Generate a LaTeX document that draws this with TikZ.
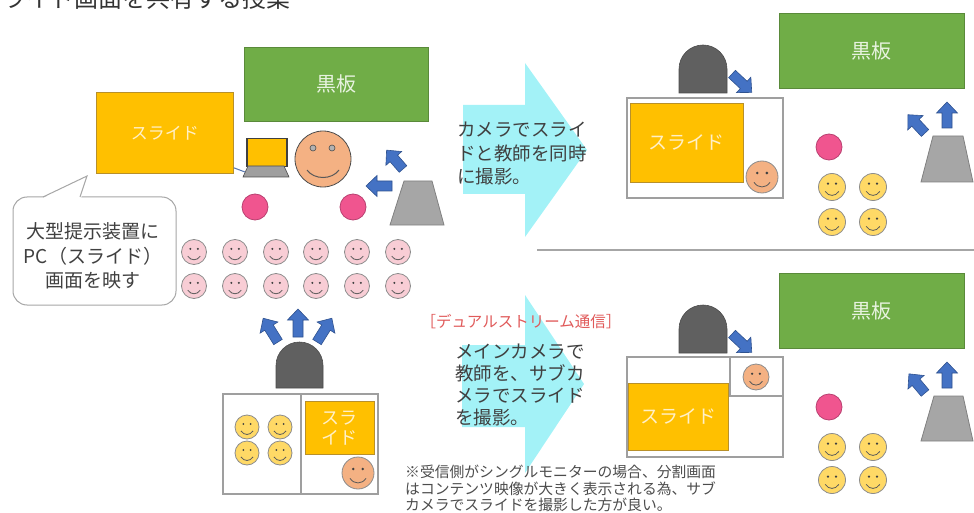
\documentclass[tikz,border=0pt]{standalone}
\usepackage{fontspec}
\setmainfont{Noto Sans CJK JP}
\usetikzlibrary{calc}

\definecolor{slideY}{HTML}{FFC000}
\definecolor{slideYb}{HTML}{B8902A}
\definecolor{slideTx}{HTML}{FFF0C8}
\definecolor{boardG}{HTML}{70AD47}
\definecolor{boardGb}{HTML}{5A8A3A}
\definecolor{boardTx}{HTML}{E8F3E0}
\definecolor{dotP}{HTML}{F0558F}
\definecolor{dotPb}{HTML}{B84070}
\definecolor{skinO}{HTML}{F4B183}
\definecolor{stuP}{HTML}{F8CDD5}
\definecolor{stuY}{HTML}{FFD966}
\definecolor{faceB}{HTML}{8C8C8C}
\definecolor{camD}{HTML}{606060}
\definecolor{camT}{HTML}{A6A6A6}
\definecolor{arrB}{HTML}{4472C4}
\definecolor{arrBb}{HTML}{2F528F}
\definecolor{flowC}{HTML}{A3F2F7}
\definecolor{txtD}{HTML}{404040}
\definecolor{noteR}{HTML}{E05A5A}

\tikzset{
  slidebox/.style={draw=slideYb, fill=slideY, line width=0.8pt, inner sep=0pt,
    anchor=north west, text=slideTx},
  boardbox/.style={draw=boardGb, fill=boardG, line width=0.8pt, inner sep=0pt,
    anchor=north west, text=boardTx, font=\fontsize{20}{24}\selectfont},
  screenbox/.style={draw=gray!75, fill=white, line width=1.2pt},
  bluearrow/.style={fill=arrB, draw=arrBb, line width=0.6pt, line join=miter},
  pinkdot/.style={fill=dotP, draw=dotPb, line width=0.8pt},
  camdome/.style={fill=camD, draw=black!70, line width=0.6pt},
  camstand/.style={fill=camT, draw=black!50, line width=0.8pt},
  flowarrow/.style={fill=flowC, draw=none},
  bodytext/.style={text=txtD, inner sep=0pt},
  bubbleline/.style={draw=gray!70, line width=1pt},
  pics/face/.style n args={2}{code={
    \draw[draw=faceB, line width=0.8pt, fill=#1] (0,0) circle[radius=#2];
    \fill[black!75] ({-0.3*#2},{-0.25*#2}) circle[radius={0.09*#2}]
                    ({0.3*#2},{-0.25*#2}) circle[radius={0.09*#2}];
    \draw[black!65, line width=0.8pt] ({-0.5*#2},{0.33*#2})
      .. controls ({-0.25*#2},{0.72*#2}) and ({0.25*#2},{0.72*#2}) .. ({0.5*#2},{0.33*#2});
  }},
  pics/barrow/.style={code={
    \draw[bluearrow] (0,-5) -- ({#1-11},-5) -- ({#1-11},-10.5) -- (#1,0)
      -- ({#1-11},10.5) -- ({#1-11},5) -- (0,5) -- cycle;
  }},
}

\begin{document}
\begin{tikzpicture}[x=1pt,y=-1pt]
\useasboundingbox (0,0) rectangle (974,513);

% heading (runs off the top edge)
\node[anchor=base west, inner sep=0pt, text=black!80, font=\fontsize{24}{29}\selectfont]
  (heading) at (-22,7.5) {スライド画面を共有する授業};

% ---------- classroom with the large display ----------
\node[boardbox, minimum width=184pt, minimum height=74pt] (boardA) at (244,47) {黒板};
\node[slidebox, minimum width=137pt, minimum height=81pt, font=\fontsize{17}{20}\selectfont]
  (slideA) at (96,92) {スライド};

% laptop
\node[draw=black!75, fill=slideY, line width=1.5pt, minimum width=40pt, minimum height=28pt,
  inner sep=0pt, anchor=north west] (laptopA) at (246,138) {};
\draw[fill=gray!75, draw=gray!60!black, line width=0.6pt]
  (248,166) -- (284,166) -- (289,177) -- (243,177) -- cycle;
\coordinate (laptopPort) at (245,172);
\draw[draw=arrB!70!gray, line width=1pt] ([yshift=6pt]slideA.south east) -- (laptopPort);

% teacher
\draw[draw=gray!60!black, line width=0.8pt, fill=skinO] (323,159) circle[radius=28];
\draw[fill=gray!60, draw=black!70, line width=0.6pt] (313,148) circle[radius=3] (332,148) circle[radius=3];
\draw[black!65, line width=1pt] (307,170) .. controls (314,180) and (332,180) .. (339,170);

% microphones
\draw[pinkdot] (255,207) circle[radius=13];
\draw[pinkdot] (353,207) circle[radius=13];

% camera
\draw[camstand] (404,181) -- (432,181) -- (444,225) -- (390,225) -- cycle;
\pic[rotate=131] at (403,169) {barrow=25};
\pic[rotate=180] at (392,186) {barrow=26};

% students
\foreach \x in {194,235,276,316,357,398}
  \foreach \y in {252,286}
    \pic at (\x,\y) {face={stuP}{12.5}};

% speech bubble
\draw[bubbleline, fill=white, rounded corners=14pt] (13,197) rectangle (176,305);
\fill[white] (42,198.6) -- (87,176) -- (81,198.6) -- cycle;
\draw[bubbleline] (43,197) -- (87,176) -- (80,197);
\node[bodytext, align=center, font=\fontsize{19}{24.5}\selectfont] (bubbleText)
  at (93,256) {大型提示装置に\\PC（スライド）\\画面を映す};

% ---------- far-end view in the lower left ----------
\draw[camdome] (276,388) -- (276,365.5) arc[start angle=180, end angle=360, radius=23.5]
  -- (323,388) -- cycle;
\pic[rotate=122] at (278,342) {barrow=28};
\pic[rotate=90]  at (298,337) {barrow=28};
\pic[rotate=58]  at (317,342) {barrow=28};
\draw[screenbox] (223,394) rectangle (378,494);
\draw[screenbox] (301,394) -- (301,494);
\foreach \x in {247,280}
  \foreach \y in {427,453}
    \pic at (\x,\y) {face={stuY}{12}};
\node[slidebox, minimum width=69pt, minimum height=53pt, align=center,
  font=\fontsize{18}{20}\selectfont] (slideB) at (305,401) {スラ\\イド};
\pic at (358,473) {face={skinO}{16}};

% ---------- flow arrows ----------
\fill[flowarrow] (463,105) -- (525,105) -- (525,63) -- (587,150) -- (525,237)
  -- (525,194) -- (463,194) -- cycle;
\node[bodytext, anchor=west, align=left, font=\fontsize{18.5}{23.5}\selectfont]
  (flowAText) at (457,153.5) {カメラでスライ\\ドと教師を同時\\に撮影。};

\fill[flowarrow] (462,345) -- (525,345) -- (525,295) -- (584,384) -- (525,473)
  -- (525,427) -- (462,427) -- cycle;
\node[inner sep=0pt, text=noteR, font=\fontsize{15.5}{18}\selectfont]
  (dualTitle) at (521,322) {［デュアルストリーム通信］};
\node[bodytext, anchor=west, align=left, font=\fontsize{18.5}{22}\selectfont]
  (flowBText) at (455,385) {メインカメラで\\教師を、サブカ\\メラでスライド\\を撮影。};
\node[bodytext, text=black!70, anchor=west, align=left, font=\fontsize{14.8}{16.5}\selectfont]
  (noteText) at (405,488.5)
  {※受信側がシングルモニターの場合、分割画面\\はコンテンツ映像が大きく表示される為、サブ\\カメラでスライドを撮影した方が良い。};

% separator
\coordinate (sepL) at (537,250);
\coordinate (sepR) at (974,250);
\draw[gray!70, line width=2pt] (sepL) -- (sepR);

% ---------- upper right: single camera ----------
\node[boardbox, minimum width=185pt, minimum height=75pt] (boardB) at (779,13) {黒板};
\draw[camdome] (679,93) -- (679,69) arc[start angle=180, end angle=360, radius=24]
  -- (727,93) -- cycle;
\pic[rotate=-43] at (732,74) {barrow=27};
\draw[screenbox] (627,98) rectangle (783,198);
\node[slidebox, minimum width=113pt, minimum height=79pt, font=\fontsize{19}{22}\selectfont]
  (slideC) at (630,103) {スライド};
\pic at (762,177) {face={skinO}{16}};
\draw[pinkdot] (829,147) circle[radius=13];
\foreach \x in {832,873}
  \foreach \y in {187,222}
    \pic at (\x,\y) {face={stuY}{13.5}};
\draw[camstand] (933,136) -- (963,136) -- (973,182) -- (921,182) -- cycle;
\pic[rotate=133] at (925,133) {barrow=25};
\pic[rotate=90]  at (947,128) {barrow=26};

% ---------- lower right: dual stream ----------
\node[boardbox, minimum width=185pt, minimum height=75pt] (boardC) at (779,273) {黒板};
\draw[camdome] (679,353) -- (679,329) arc[start angle=180, end angle=360, radius=24]
  -- (727,353) -- cycle;
\pic[rotate=-43] at (732,334) {barrow=27};
\draw[screenbox] (627,357) rectangle (783,457);
\draw[screenbox] (730,357) rectangle (783,396);
\pic at (756,377) {face={skinO}{13}};
\node[slidebox, minimum width=100pt, minimum height=67pt, font=\fontsize{19}{22}\selectfont]
  (slideD) at (628,383) {スライド};
\draw[pinkdot] (829,407) circle[radius=13];
\foreach \x in {832,873}
  \foreach \y in {447,480}
    \pic at (\x,\y) {face={stuY}{13.5}};
\draw[camstand] (934,396) -- (963,396) -- (973,441) -- (921,441) -- cycle;
\pic[rotate=130] at (925,393) {barrow=25};
\pic[rotate=90]  at (947,388) {barrow=26};

\end{tikzpicture}
\end{document}
